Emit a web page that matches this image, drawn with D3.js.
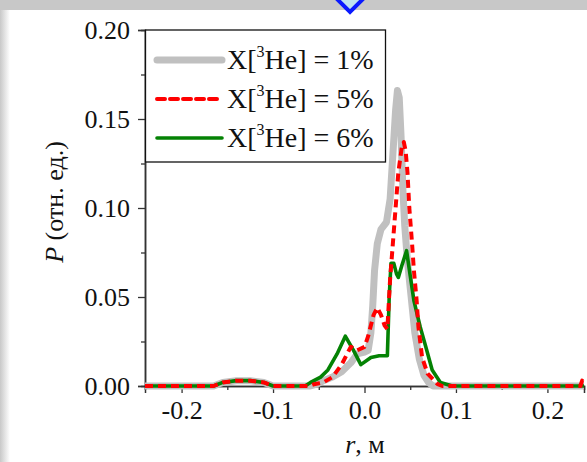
<!DOCTYPE html>
<html>
<head>
<meta charset="utf-8">
<script src="https://cdn.jsdelivr.net/npm/d3@7/dist/d3.min.js"></script>
<style>
html,body{margin:0;padding:0;background:#fff;}
svg{display:block;}
text{font-family:"Liberation Serif","Times New Roman",serif;fill:#111;}
</style>
</head>
<body>
<svg id="chart" width="587" height="462"></svg>
<script>
// ---- data ----
const seriesNames = ["1%", "5%", "6%"];
const xTickValues = [-0.2, -0.1, 0.0, 0.1, 0.2];
const xTickLabels = ["-0.2", "-0.1", "0.0", "0.1", "0.2"];
const yTickValues = [0.00, 0.05, 0.10, 0.15, 0.20];
const yTickLabels = ["0.00", "0.05", "0.10", "0.15", "0.20"];

const r1 = [-0.24,-0.165,-0.155,-0.14,-0.125,-0.11,-0.10,-0.06,-0.052,-0.045,-0.035,-0.025,-0.015,-0.008,0.0,0.004,0.007,0.009,0.011,0.014,0.018,0.024,0.028,0.031,0.034,0.036,0.038,0.040,0.042,0.044,0.047,0.051,0.055,0.060,0.065,0.070,0.075,0.24];
const p1 = [0,0,0.002,0.003,0.003,0.002,0,0,0.001,0.003,0.005,0.008,0.013,0.018,0.019,0.020,0.030,0.045,0.065,0.080,0.088,0.092,0.105,0.130,0.155,0.166,0.162,0.140,0.110,0.090,0.070,0.050,0.030,0.015,0.006,0.002,0,0];

const r5 = [-0.24,-0.165,-0.155,-0.14,-0.125,-0.11,-0.10,-0.06,-0.055,-0.045,-0.035,-0.025,-0.015,-0.008,0.0,0.004,0.010,0.014,0.018,0.022,0.025,0.028,0.031,0.034,0.037,0.041,0.043,0.045,0.047,0.049,0.052,0.054,0.057,0.059,0.063,0.069,0.080,0.085,0.236,0.238,0.24];
const p5 = [0,0,0.002,0.003,0.003,0.002,0,0,0.001,0.002,0.005,0.012,0.022,0.020,0.022,0.028,0.040,0.044,0.040,0.034,0.032,0.060,0.080,0.100,0.120,0.135,0.137,0.132,0.120,0.100,0.080,0.065,0.048,0.033,0.016,0.007,0.001,0,0,0.003,0];

const r6 = [-0.24,-0.165,-0.155,-0.14,-0.125,-0.11,-0.10,-0.065,-0.059,-0.048,-0.040,-0.030,-0.021,-0.012,-0.004,0.007,0.016,0.025,0.027,0.029,0.032,0.035,0.037,0.041,0.046,0.050,0.054,0.061,0.067,0.074,0.083,0.096,0.24];
const p6 = [0,0,0.002,0.003,0.003,0.002,0,0,0.002,0.005,0.009,0.018,0.028,0.020,0.012,0.016,0.017,0.017,0.050,0.069,0.069,0.063,0.061,0.068,0.076,0.062,0.048,0.033,0.022,0.009,0.002,0,0];

const series = [
  {name: seriesNames[0], r: r1, p: p1, color: "#c0c0c0", width: 7, dash: null},
  {name: seriesNames[1], r: r5, p: p5, color: "#ff0000", width: 4, dash: "8,5"},
  {name: seriesNames[2], r: r6, p: p6, color: "#048204", width: 3.6, dash: null}
];

// ---- drawing ----
const svg = d3.select("#chart");

// screenshot frame
const defs = svg.append("defs");
const g1 = defs.append("linearGradient").attr("id","lg").attr("x1","0").attr("x2","1");
g1.append("stop").attr("offset","0").attr("stop-color","#c8c8c8");
g1.append("stop").attr("offset","1").attr("stop-color","#ffffff");
svg.append("rect").attr("x",0).attr("y",0).attr("width",10).attr("height",462).attr("fill","url(#lg)");
svg.append("rect").attr("x",0).attr("y",0).attr("width",587).attr("height",10).attr("fill","#c8c8c8");
svg.append("path").attr("d","M334,-4 L350,12 L366,-4").attr("fill","#bfe3ee").attr("stroke","#0a1aff").attr("stroke-width",4);

const x = d3.scaleLinear().domain([-0.24, 0.24]).range([145, 584]);
const y = d3.scaleLinear().domain([0, 0.20]).range([386, 30]);

const axisColor = "#333";
const fontSize = 26;

// minor ticks
const yMinor = svg.append("g").attr("transform","translate(145,0)")
  .call(d3.axisLeft(y).tickValues([0.025,0.075,0.125,0.175]).tickSize(4).tickFormat(""));
const xMinor = svg.append("g").attr("transform","translate(0,386)")
  .call(d3.axisBottom(x).tickValues([-0.15,-0.05,0.05,0.15]).tickSize(4).tickFormat(""));

const yAxis = svg.append("g").attr("transform","translate(145,0)")
  .call(d3.axisLeft(y).tickValues(yTickValues).tickSize(7).tickPadding(8)
    .tickFormat((d,i)=>yTickLabels[i]));
const xAxis = svg.append("g").attr("transform","translate(0,386)")
  .call(d3.axisBottom(x).tickValues(xTickValues).tickSize(7).tickPadding(10)
    .tickFormat((d,i)=>xTickLabels[i]));

[yMinor,xMinor,yAxis,xAxis].forEach(g=>{
  g.select(".domain").attr("stroke",axisColor).attr("stroke-width",1.5);
  g.selectAll(".tick line").attr("stroke",axisColor).attr("stroke-width",1.3);
  g.selectAll(".tick text").attr("font-size",fontSize).attr("fill","#111")
    .style("font-family",'"Liberation Serif",serif');
});
xAxis.selectAll(".tick text").attr("dy","0").attr("y",33);

// curves
const line = d3.line().x(d=>x(d[0])).y(d=>y(d[1]));
const drawOrder = [0, 2, 1];
drawOrder.forEach(i=>{
  const s = series[i];
  const pts = s.r.map((v,k)=>[v, s.p[k]]);
  svg.append("path").datum(pts)
    .attr("d", line)
    .attr("fill","none")
    .attr("stroke", s.color)
    .attr("stroke-width", s.width)
    .attr("stroke-linejoin","round")
    .attr("stroke-dasharray", s.dash);
});

// legend
svg.append("rect").attr("x",145.5).attr("y",30).attr("width",240).attr("height",132)
  .attr("fill","#fff").attr("stroke","#111").attr("stroke-width",1.3);
const legY = [60, 99, 138];
series.forEach((s,i)=>{
  svg.append("line").attr("x1",157).attr("x2",222).attr("y1",legY[i]).attr("y2",legY[i])
    .attr("stroke",s.color).attr("stroke-width",s.width).attr("stroke-linecap","round")
    .attr("stroke-dasharray", s.dash);
  const t = svg.append("text").attr("x",227).attr("y",legY[i]+9).attr("font-size",28);
  t.append("tspan").text("X[");
  t.append("tspan").attr("font-size",16).attr("dy",-12).text("3");
  t.append("tspan").attr("dy",12).text("He] = " + s.name);
});

// axis titles
const yt = svg.append("text").attr("transform","translate(63,202) rotate(-90)")
  .attr("text-anchor","middle").attr("font-size",fontSize);
yt.append("tspan").attr("font-style","italic").text("P");
yt.append("tspan").text(" (отн. ед.)");

const xt = svg.append("text").attr("x",365).attr("y",453).attr("text-anchor","middle").attr("font-size",fontSize);
xt.append("tspan").attr("font-style","italic").text("r");
xt.append("tspan").text(", м");
</script>
</body>
</html>
